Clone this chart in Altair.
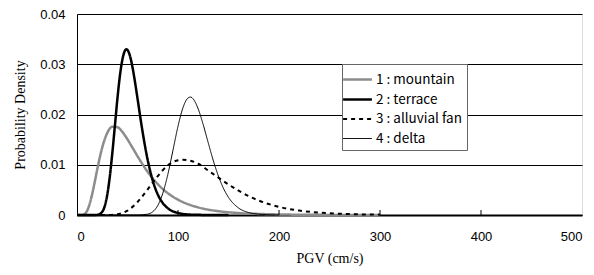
import altair as alt
import pandas as pd

series_names = ["1 : mountain", "2 : terrace", "3 : alluvial fan", "4 : delta"]

mountain_x = [0, 5, 8, 10, 12, 15, 18, 20, 25, 30, 35, 40, 45, 50, 55, 60, 70, 80, 90, 100, 120, 140, 160, 180, 200, 250, 300]
mountain_y = [0, 0.00001, 0.00027, 0.00084, 0.00185, 0.00414, 0.0070, 0.00903, 0.01345, 0.01634, 0.01758, 0.01748, 0.01651,
              0.01505, 0.01337, 0.01167, 0.00858, 0.00613, 0.00433, 0.00305, 0.00151, 0.00076, 0.00039, 0.00021, 0.00011, 0.00002, 0]

terrace_x = [0, 15, 20, 25, 30, 32.5, 35, 37.5, 40, 42.5, 45, 47.5, 49, 52.5, 55, 57.5, 60, 62.5, 65, 70, 75, 80, 85, 90, 100, 110, 120, 150]
terrace_y = [0, 0, 0.00003, 0.00065, 0.00409, 0.00765, 0.01237, 0.01772, 0.02313, 0.02773, 0.0310, 0.03272, 0.0330, 0.03162,
             0.02935, 0.02637, 0.02308, 0.0197, 0.01648, 0.01093, 0.00685, 0.00408, 0.00236, 0.00132, 0.0004, 0.00011, 0.00003, 0]

alluvial_x = [0, 30, 40, 50, 60, 70, 80, 90, 100, 105, 110, 120, 130, 140, 150, 160, 180, 200, 220, 240, 260, 280, 300]
alluvial_y = [0, 0.00001, 0.00015, 0.00087, 0.00259, 0.00511, 0.00775, 0.0099, 0.0109, 0.0110, 0.0109, 0.0102, 0.00884,
              0.00745, 0.00608, 0.00483, 0.00287, 0.00162, 0.00088, 0.00047, 0.00025, 0.00013, 0.00007]

delta_x = [0, 60, 70, 75, 80, 85, 90, 95, 100, 105, 110, 112.5, 115, 120, 125, 130, 135, 140, 145, 150, 160, 170, 180, 190, 200]
delta_y = [0, 0, 0.00017, 0.00065, 0.0019, 0.00435, 0.00813, 0.01287, 0.01766, 0.0214, 0.0233, 0.02347, 0.0231, 0.0211,
           0.01795, 0.01432, 0.01079, 0.00774, 0.00531, 0.00351, 0.00139, 0.00049, 0.00016, 0.00005, 0]

x_ticks = [0, 100, 200, 300, 400, 500]
y_ticks = [0, 0.01, 0.02, 0.03, 0.04]
inner_ticks = [100, 200, 300, 400]

rows = []
for name, xs, ys in zip(series_names,
                        [mountain_x, terrace_x, alluvial_x, delta_x],
                        [mountain_y, terrace_y, alluvial_y, delta_y]):
    for i, (x, y) in enumerate(zip(xs, ys)):
        rows.append({"series": name, "pgv": x, "density": y, "order": i})
df = pd.DataFrame(rows)

legend = alt.Legend(
    title=None, orient="none", legendX=265, legendY=50,
    symbolType="M-1.6,0H1.6", symbolSize=324, labelFont="Noto Sans CJK JP", labelFontSize=13.5,
    labelColor="black", strokeColor="#666666", fillColor="white", padding=5, rowPadding=3,
    labelOffset=8,
)

xscale = alt.Scale(domain=[0, 500], nice=False)
yscale = alt.Scale(domain=[0, 0.04], nice=False)

lines = alt.Chart(df).mark_line(interpolate="monotone").encode(
    x=alt.X("pgv:Q", scale=xscale, axis=alt.Axis(
        values=x_ticks, title="PGV (cm/s)", grid=False, ticks=False, labelPadding=15,
        labelFont="Liberation Sans", labelFontSize=13, labelColor="black",
        titleFont="Liberation Serif", titleFontSize=14, titleFontWeight="normal", titleColor="black",
        titlePadding=8, domainColor="black", domainWidth=2)),
    y=alt.Y("density:Q", scale=yscale, axis=alt.Axis(
        values=y_ticks, title="Probability Density", grid=True, gridColor="black", gridWidth=1,
        ticks=False, labelPadding=12,
        labelExpr="datum.value == 0 ? '0' : format(datum.value, '.2f')",
        labelFont="Liberation Sans", labelFontSize=13, labelColor="black",
        titleFont="Liberation Serif", titleFontSize=14, titleFontWeight="normal", titleColor="black",
        titlePadding=12, domainColor="black", domainWidth=1)),
    color=alt.Color("series:N", scale=alt.Scale(domain=series_names,
                    range=["#8c8c8c", "#000000", "#000000", "#000000"]), legend=legend),
    strokeDash=alt.StrokeDash("series:N", scale=alt.Scale(domain=series_names,
                    range=[[1, 0], [1, 0], [4, 4], [1, 0]]), legend=legend),
    strokeWidth=alt.StrokeWidth("series:N", scale=alt.Scale(type="ordinal", domain=series_names,
                    range=[2.5, 2.5, 2, 1]), legend=legend),
    order="order:Q",
)

ticks_df = pd.DataFrame({"pgv": inner_ticks})
tick_marks = alt.Chart(ticks_df).mark_rule(color="black", strokeWidth=1).encode(
    x=alt.X("pgv:Q", scale=xscale),
    y=alt.value(201),
    y2=alt.value(196),
)

chart = alt.layer(lines, tick_marks).properties(
    width=505, height=201,
    autosize=alt.AutoSizeParams(type="none"),
    padding={"left": 69, "top": 6, "right": 4, "bottom": 52},
).configure_view(stroke="black", strokeWidth=1).configure(background="white")

chart.save("out.html", embed_options={"renderer": "svg", "actions": False})
